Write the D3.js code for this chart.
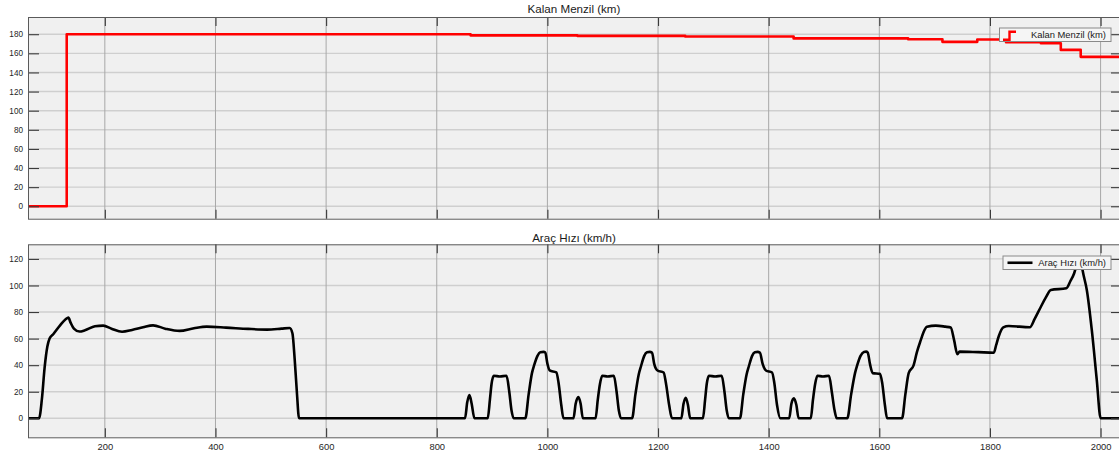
<!DOCTYPE html>
<html>
<head>
<meta charset="utf-8">
<script src="https://cdn.jsdelivr.net/npm/d3@7"></script>
<style>
  body { margin: 0; background: #fff; }
  svg { display: block; font-family: "Liberation Sans", Arial, sans-serif; }
</style>
</head>
<body>
<div id="chart"></div>
<script>
// x ticks shared by both panels
const xTicks = [200, 400, 600, 800, 1000, 1200, 1400, 1600, 1800, 2000];
const rangeTicks = [0, 20, 40, 60, 80, 100, 120, 140, 160, 180];
const speedTicks = [0, 20, 40, 60, 80, 100, 120];

// Kalan Menzil (stairs)
const rangeTime = [62, 132, 862, 1055, 1250, 1446, 1653, 1715, 1778, 1830, 1893, 1929, 1965, 2036];
const rangeKm = [0, 180, 178.8, 178.3, 177.6, 175.6, 174.8, 172, 174.5, 171.7, 170.6, 163.6, 156.3, 156.3];

// Araç Hızı
const speedTime = [
  62, 82, 87, 92, 97, 101, 108, 120, 130, 135, 139, 145, 155, 165, 183, 198, 213, 232, 250, 270,
  288, 310, 336, 362, 385, 420, 460, 494, 520, 535, 540, 544, 548, 552,
  852, 856, 860, 864, 869, 893, 897, 900, 904, 915, 927, 932, 936, 940,
  961, 967, 973, 977, 983, 988, 994, 997, 1001, 1005, 1017, 1021, 1026, 1030,
  1048, 1052, 1057, 1061, 1065, 1088, 1092, 1096, 1100, 1110, 1121, 1126, 1130, 1134,
  1154, 1160, 1166, 1170, 1176, 1181, 1186, 1190, 1194, 1200, 1211, 1215, 1221, 1226,
  1243, 1247, 1251, 1255, 1259, 1282, 1286, 1289, 1293, 1304, 1316, 1321, 1325, 1329,
  1349, 1355, 1361, 1365, 1371, 1376, 1381, 1385, 1390, 1396, 1407, 1411, 1416, 1422,
  1438, 1442, 1446.5, 1451, 1455, 1477, 1481, 1485, 1489, 1499, 1510, 1515, 1520, 1524,
  1543, 1550, 1557, 1561, 1567, 1573, 1577, 1580, 1584, 1589, 1602, 1606, 1611, 1615,
  1642, 1648, 1654, 1663, 1669, 1676, 1681, 1687, 1703, 1720, 1730, 1736, 1742, 1746, 1780,
  1808, 1812, 1817, 1825, 1835, 1873, 1882, 1893, 1902, 1911, 1939, 1946, 1953, 1958, 1962,
  1966, 1970, 1976, 1985, 1994, 2001, 2036
];
const speedKmh = [
  0, 0, 14, 38, 54, 60, 63.5, 70, 74.5, 75.8, 72, 67.5, 65.3, 66.3, 69.3, 69.8, 67.5, 65.2, 66.5, 68.5,
  70, 67.5, 65.8, 67.8, 69, 68.3, 67.3, 66.8, 67.5, 68, 64, 45, 20, 0,
  0, 12, 17.5, 11, 0, 0, 14, 26, 32, 31.5, 32, 20, 6, 0,
  0, 18, 34, 40, 47, 49.7, 50, 49.5, 41, 36, 34.5, 27, 10, 0,
  0, 11, 16, 11, 0, 0, 14, 26, 32, 31.5, 32, 20, 6, 0,
  0, 18, 33, 39, 47, 49.7, 50, 49.5, 41, 36, 34.5, 27, 10, 0,
  0, 11, 15.5, 10, 0, 0, 14, 26, 32, 31.5, 32, 20, 6, 0,
  0, 18, 33, 39, 47, 49.7, 50, 49.5, 41, 36, 34.5, 27, 10, 0,
  0, 11, 15, 10, 0, 0, 14, 26, 32, 31.5, 32, 20, 6, 0,
  0, 18, 34, 40, 47, 50, 50.2, 49.5, 41, 34, 33.5, 27, 10, 0,
  0, 18, 34, 40, 50, 59, 65, 69, 69.8, 69, 68.3, 59, 48.2, 50.2, 49.8,
  49.4, 55, 62, 68.5, 69.5, 68.5, 75, 84, 91, 96.6, 97.9, 103, 109, 116, 120,
  116, 108, 96.6, 66.5, 29, 0, 0
];

const W = 1119, H = 458;
const svg = d3.select('#chart').append('svg').attr('width', W).attr('height', H);

class Panel {

  constructor(opts) {
    this.id = opts.id;
    this.left = 28;
    this.right = 1120;
    this.top = opts.top;
    this.bottom = opts.bottom;
    this.yDomain = opts.yDomain;
    this.yTicks = opts.yTicks;
    this.xLabels = opts.xLabels;
    this.title = opts.title;
    this.titleY = opts.titleY;
    this.color = opts.color;
    this.curve = opts.curve;
    this.xs = opts.xs;
    this.ys = opts.ys;
    this.legend = opts.legend;
    this.draw();
  }

  draw() {
    this.xScale = d3.scaleLinear().domain([62, 2036]).range([this.left, this.right]);
    this.yScale = d3.scaleLinear().domain(this.yDomain).range([this.bottom, this.top]);
    this.g = svg.append('g');

    this.g.append('rect')
      .attr('x', this.left).attr('y', this.top)
      .attr('width', this.right - this.left).attr('height', this.bottom - this.top)
      .attr('fill', '#f0f0f0');

    this.addGrid();
    this.addLine();
    this.addAxes();
    this.addTitle();
    this.addLegend();
  }

  addGrid() {
    this.g.append('g').selectAll('line')
      .data(this.yTicks).enter().append('line')
      .attr('x1', this.left).attr('x2', this.right)
      .attr('y1', d => this.yScale(d)).attr('y2', d => this.yScale(d))
      .attr('stroke', '#cfcfcf').attr('stroke-width', 1.4);

    this.g.append('g').selectAll('line')
      .data(xTicks).enter().append('line')
      .attr('x1', d => this.xScale(d) + 0.5).attr('x2', d => this.xScale(d) + 0.5)
      .attr('y1', this.top).attr('y2', this.bottom)
      .attr('stroke', '#a8a8a8').attr('stroke-width', 1);
  }

  addLine() {
    this.g.append('clipPath').attr('id', 'clip-' + this.id)
      .append('rect')
      .attr('x', this.left).attr('y', this.top)
      .attr('width', this.right - this.left).attr('height', this.bottom - this.top);

    const line = d3.line()
      .x((d, i) => this.xScale(this.xs[i]))
      .y(d => this.yScale(d))
      .curve(this.curve);

    this.g.append('path')
      .datum(this.ys)
      .attr('clip-path', `url(#clip-${this.id})`)
      .attr('d', line)
      .attr('fill', 'none')
      .attr('stroke', this.color)
      .attr('stroke-width', 2.6)
      .attr('stroke-linejoin', 'round');
  }

  addAxes() {
    const style = (sel) => {
      sel.select('.domain').remove();
      sel.selectAll('.tick line').attr('stroke', '#3a3a3a').attr('stroke-width', 1.1);
      sel.selectAll('.tick text').attr('fill', '#262626');
    };

    this.g.append('g')
      .attr('transform', `translate(${this.left}, 0)`)
      .call(d3.axisLeft(this.yScale).tickValues(this.yTicks).tickSize(-11).tickPadding(5))
      .attr('font-size', 8.2).attr('font-family', null)
      .call(style);

    this.g.append('g')
      .attr('transform', `translate(${this.right}, 0)`)
      .call(d3.axisRight(this.yScale).tickValues(this.yTicks).tickSize(-9).tickFormat(''))
      .call(style);

    this.g.append('g')
      .attr('transform', `translate(0.5, ${this.top})`)
      .call(d3.axisTop(this.xScale).tickValues(xTicks).tickSize(-9).tickFormat(''))
      .call(style);

    const bottomAxis = d3.axisBottom(this.xScale).tickValues(xTicks).tickSize(-9).tickPadding(6)
      .tickFormat(this.xLabels ? d3.format('d') : '');
    this.g.append('g')
      .attr('transform', `translate(0.5, ${this.bottom})`)
      .call(bottomAxis)
      .attr('font-size', 9.4).attr('font-family', null)
      .call(style);

    this.g.append('rect')
      .attr('x', this.left + 0.5).attr('y', this.top + 0.5)
      .attr('width', this.right - this.left).attr('height', this.bottom - this.top)
      .attr('fill', 'none').attr('stroke', '#5a5a5a').attr('stroke-width', 1);
  }

  addTitle() {
    this.g.append('text')
      .attr('x', (this.left + this.right) / 2)
      .attr('y', this.titleY)
      .attr('text-anchor', 'middle')
      .attr('font-size', 11.6)
      .attr('fill', '#1a1a1a')
      .text(this.title);
  }

  addLegend() {
    const lg = this.legend;
    const box = this.g.append('g').attr('transform', `translate(${lg.x}, ${lg.y})`);
    box.append('rect')
      .attr('x', 0.5).attr('y', 0.5)
      .attr('width', lg.w).attr('height', lg.h)
      .attr('fill', '#f5f5f5').attr('stroke', '#8a8a8a').attr('stroke-width', 1);

    // legend sample
    const mid = lg.h / 2 + 0.5;
    if (lg.stairs) {
      box.append('path')
        .attr('d', `M4,${mid + 5} H10.5 V${mid - 3} H17`)
        .attr('fill', 'none').attr('stroke', this.color).attr('stroke-width', 2.4);
    } else {
      box.append('line')
        .attr('x1', 5).attr('x2', 30).attr('y1', mid).attr('y2', mid)
        .attr('stroke', this.color).attr('stroke-width', 2.6);
    }

    box.append('text')
      .attr('x', lg.w - 4.5).attr('y', mid + 3.3)
      .attr('text-anchor', 'end')
      .attr('font-size', 9.4)
      .attr('fill', '#1a1a1a')
      .text(this.title);
  }
}

new Panel({
  id: 'range', top: 17, bottom: 218.7, yDomain: [-13, 198], yTicks: rangeTicks,
  xLabels: false, title: 'Kalan Menzil (km)', titleY: 13,
  color: '#ff0000', curve: d3.curveStepAfter, xs: rangeTime, ys: rangeKm,
  legend: { x: 999, y: 27.5, w: 111.5, h: 13.5, stairs: true }
});

new Panel({
  id: 'speed', top: 244.3, bottom: 437.3, yDomain: [-14.3, 131], yTicks: speedTicks,
  xLabels: true, title: 'Araç Hızı (km/h)', titleY: 241.5,
  color: '#000000', curve: d3.curveMonotoneX, xs: speedTime, ys: speedKmh,
  legend: { x: 1002.5, y: 255.5, w: 108, h: 13.5, stairs: false }
});
</script>
</body>
</html>
